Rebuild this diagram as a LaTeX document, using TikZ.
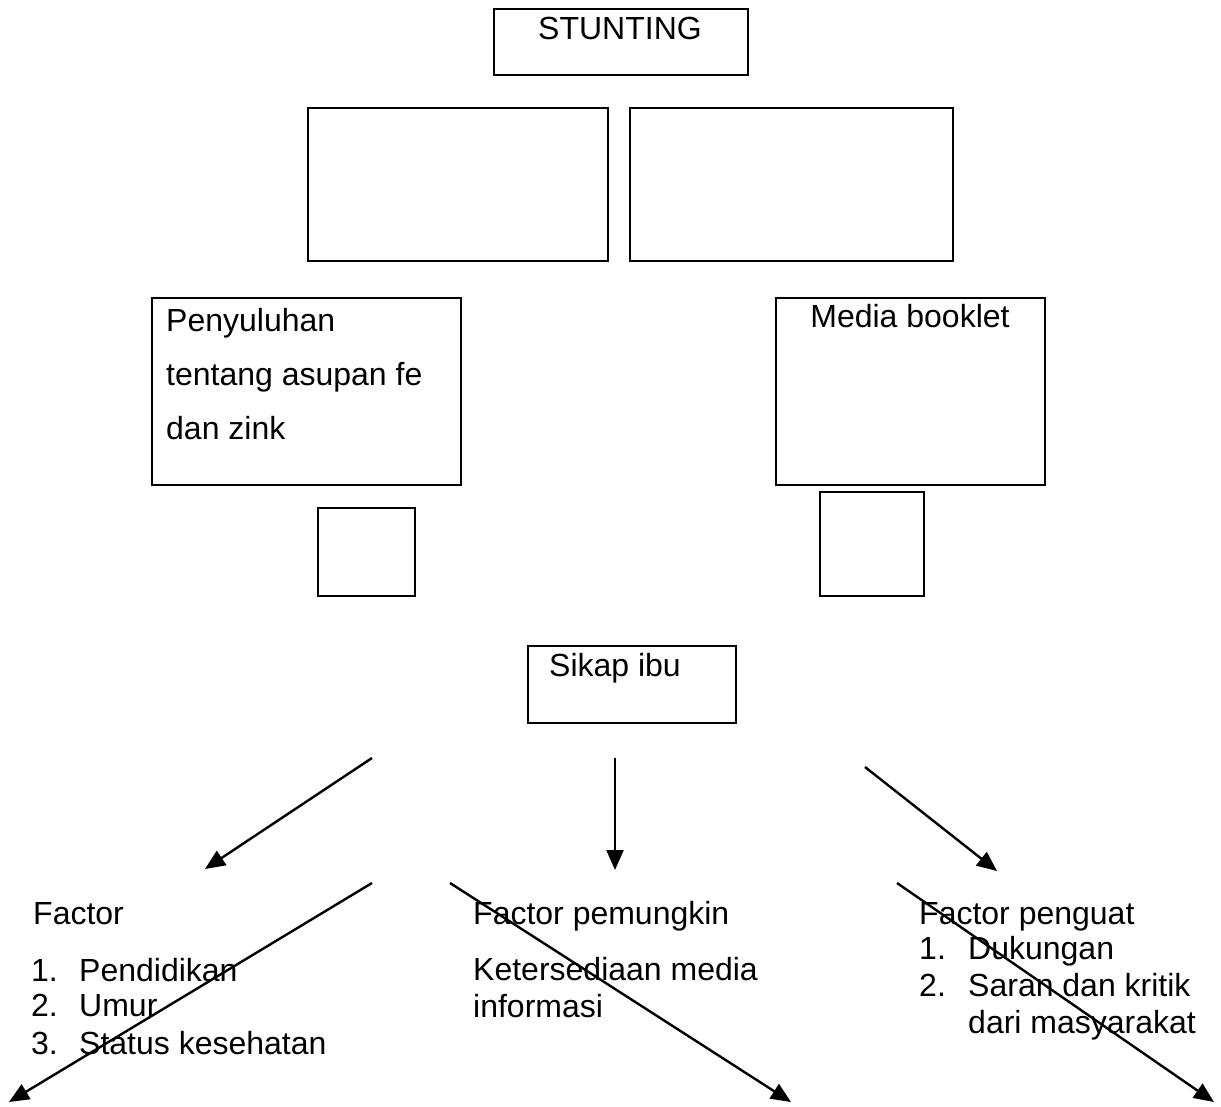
\documentclass[tikz,border=0pt]{standalone}
\usepackage{fontspec}
\setmainfont{Liberation Sans}
\usepackage{tikz}
\usetikzlibrary{arrows.meta}
\tikzset{every picture/.style={line width=2.4pt}}
\tikzset{box/.style={draw, anchor=north west, inner sep=0pt},
         txt/.style={anchor=base west, inner sep=0pt, font=\fontsize{32}{37}\selectfont},
         tip/.style={-{Triangle[length=20pt,width=17pt]}}}

\begin{document}
\begin{tikzpicture}[x=1pt,y=1pt,yscale=-1,xscale=1]
    \useasboundingbox (0,0) rectangle (1221,1106);
    \node [box, minimum width=254pt, minimum height=66pt] (stuntbox) at (493,8) {};
    \node [box, minimum width=300pt, minimum height=153pt] (boxa) at (307,107) {};
    \node [box, minimum width=323pt, minimum height=153pt] (boxb) at (629,107) {};
    \node [box, minimum width=309pt, minimum height=187pt] (penbox) at (151,297) {};
    \node [box, minimum width=269pt, minimum height=187pt] (medbox) at (775,297) {};
    \node [box, minimum width=97pt, minimum height=88pt] (smalla) at (317,507) {};
    \node [box, minimum width=104pt, minimum height=104pt] (smallb) at (819,491) {};
    \node [box, minimum width=208pt, minimum height=77pt] (sikapbox) at (527,645) {};
    \node [txt, anchor=base] (stunting) at (620,39) {STUNTING};
    \node [txt] (pen1) at (165,331) {Penyuluhan};
    \node [txt] (pen2) at (165,385) {tentang asupan fe};
    \node [txt] (pen3) at (165,439) {dan zink};
    \node [txt, anchor=base] (media) at (910,327) {Media booklet};
    \node [txt] (sikap) at (548,676) {Sikap ibu};
    % factor kiri
    \node [txt] (fakt) at (32,924) {Factor};
    \node [txt] (fn1) at (30,981) {1.};
    \node [txt] (fi1) at (78,981) {Pendidikan};
    \node [txt] (fn2) at (30,1016) {2.};
    \node [txt] (fi2) at (78,1016) {Umur};
    \node [txt] (fn3) at (30,1054) {3.};
    \node [txt] (fi3) at (78,1054) {Status kesehatan};
    % factor tengah
    \node [txt] (pemung) at (472,924) {Factor pemungkin};
    \node [txt] (sedia1) at (472,980) {Ketersediaan media};
    \node [txt] (sedia2) at (472,1017) {informasi};
    % factor kanan
    \node [txt] (penguat) at (918,924) {Factor penguat};
    \node [txt] (gn1) at (918,959) {1.};
    \node [txt] (gi1) at (967,959) {Dukungan};
    \node [txt] (gn2) at (918,996) {2.};
    \node [txt] (gi2) at (967,996) {Saran dan kritik};
    \node [txt] (gi3) at (967,1033) {dari masyarakat};
    % panah
    \coordinate (a1) at (372,758);
    \coordinate (a2) at (205,869);
    \coordinate (b1) at (615,758);
    \coordinate (b2) at (615,870);
    \coordinate (c1) at (865,767);
    \coordinate (c2) at (997,871);
    \coordinate (d1) at (372,883);
    \coordinate (d2) at (9,1102);
    \coordinate (e1) at (450,883);
    \coordinate (e2) at (791,1102);
    \coordinate (f1) at (897,883);
    \coordinate (f2) at (1214,1102);
    \draw [tip] (a1) -- (a2);
    \draw [tip] (b1) -- (b2);
    \draw [tip] (c1) -- (c2);
    \draw [tip] (d1) -- (d2);
    \draw [tip] (e1) -- (e2);
    \draw [tip] (f1) -- (f2);
\end{tikzpicture}
\end{document}
